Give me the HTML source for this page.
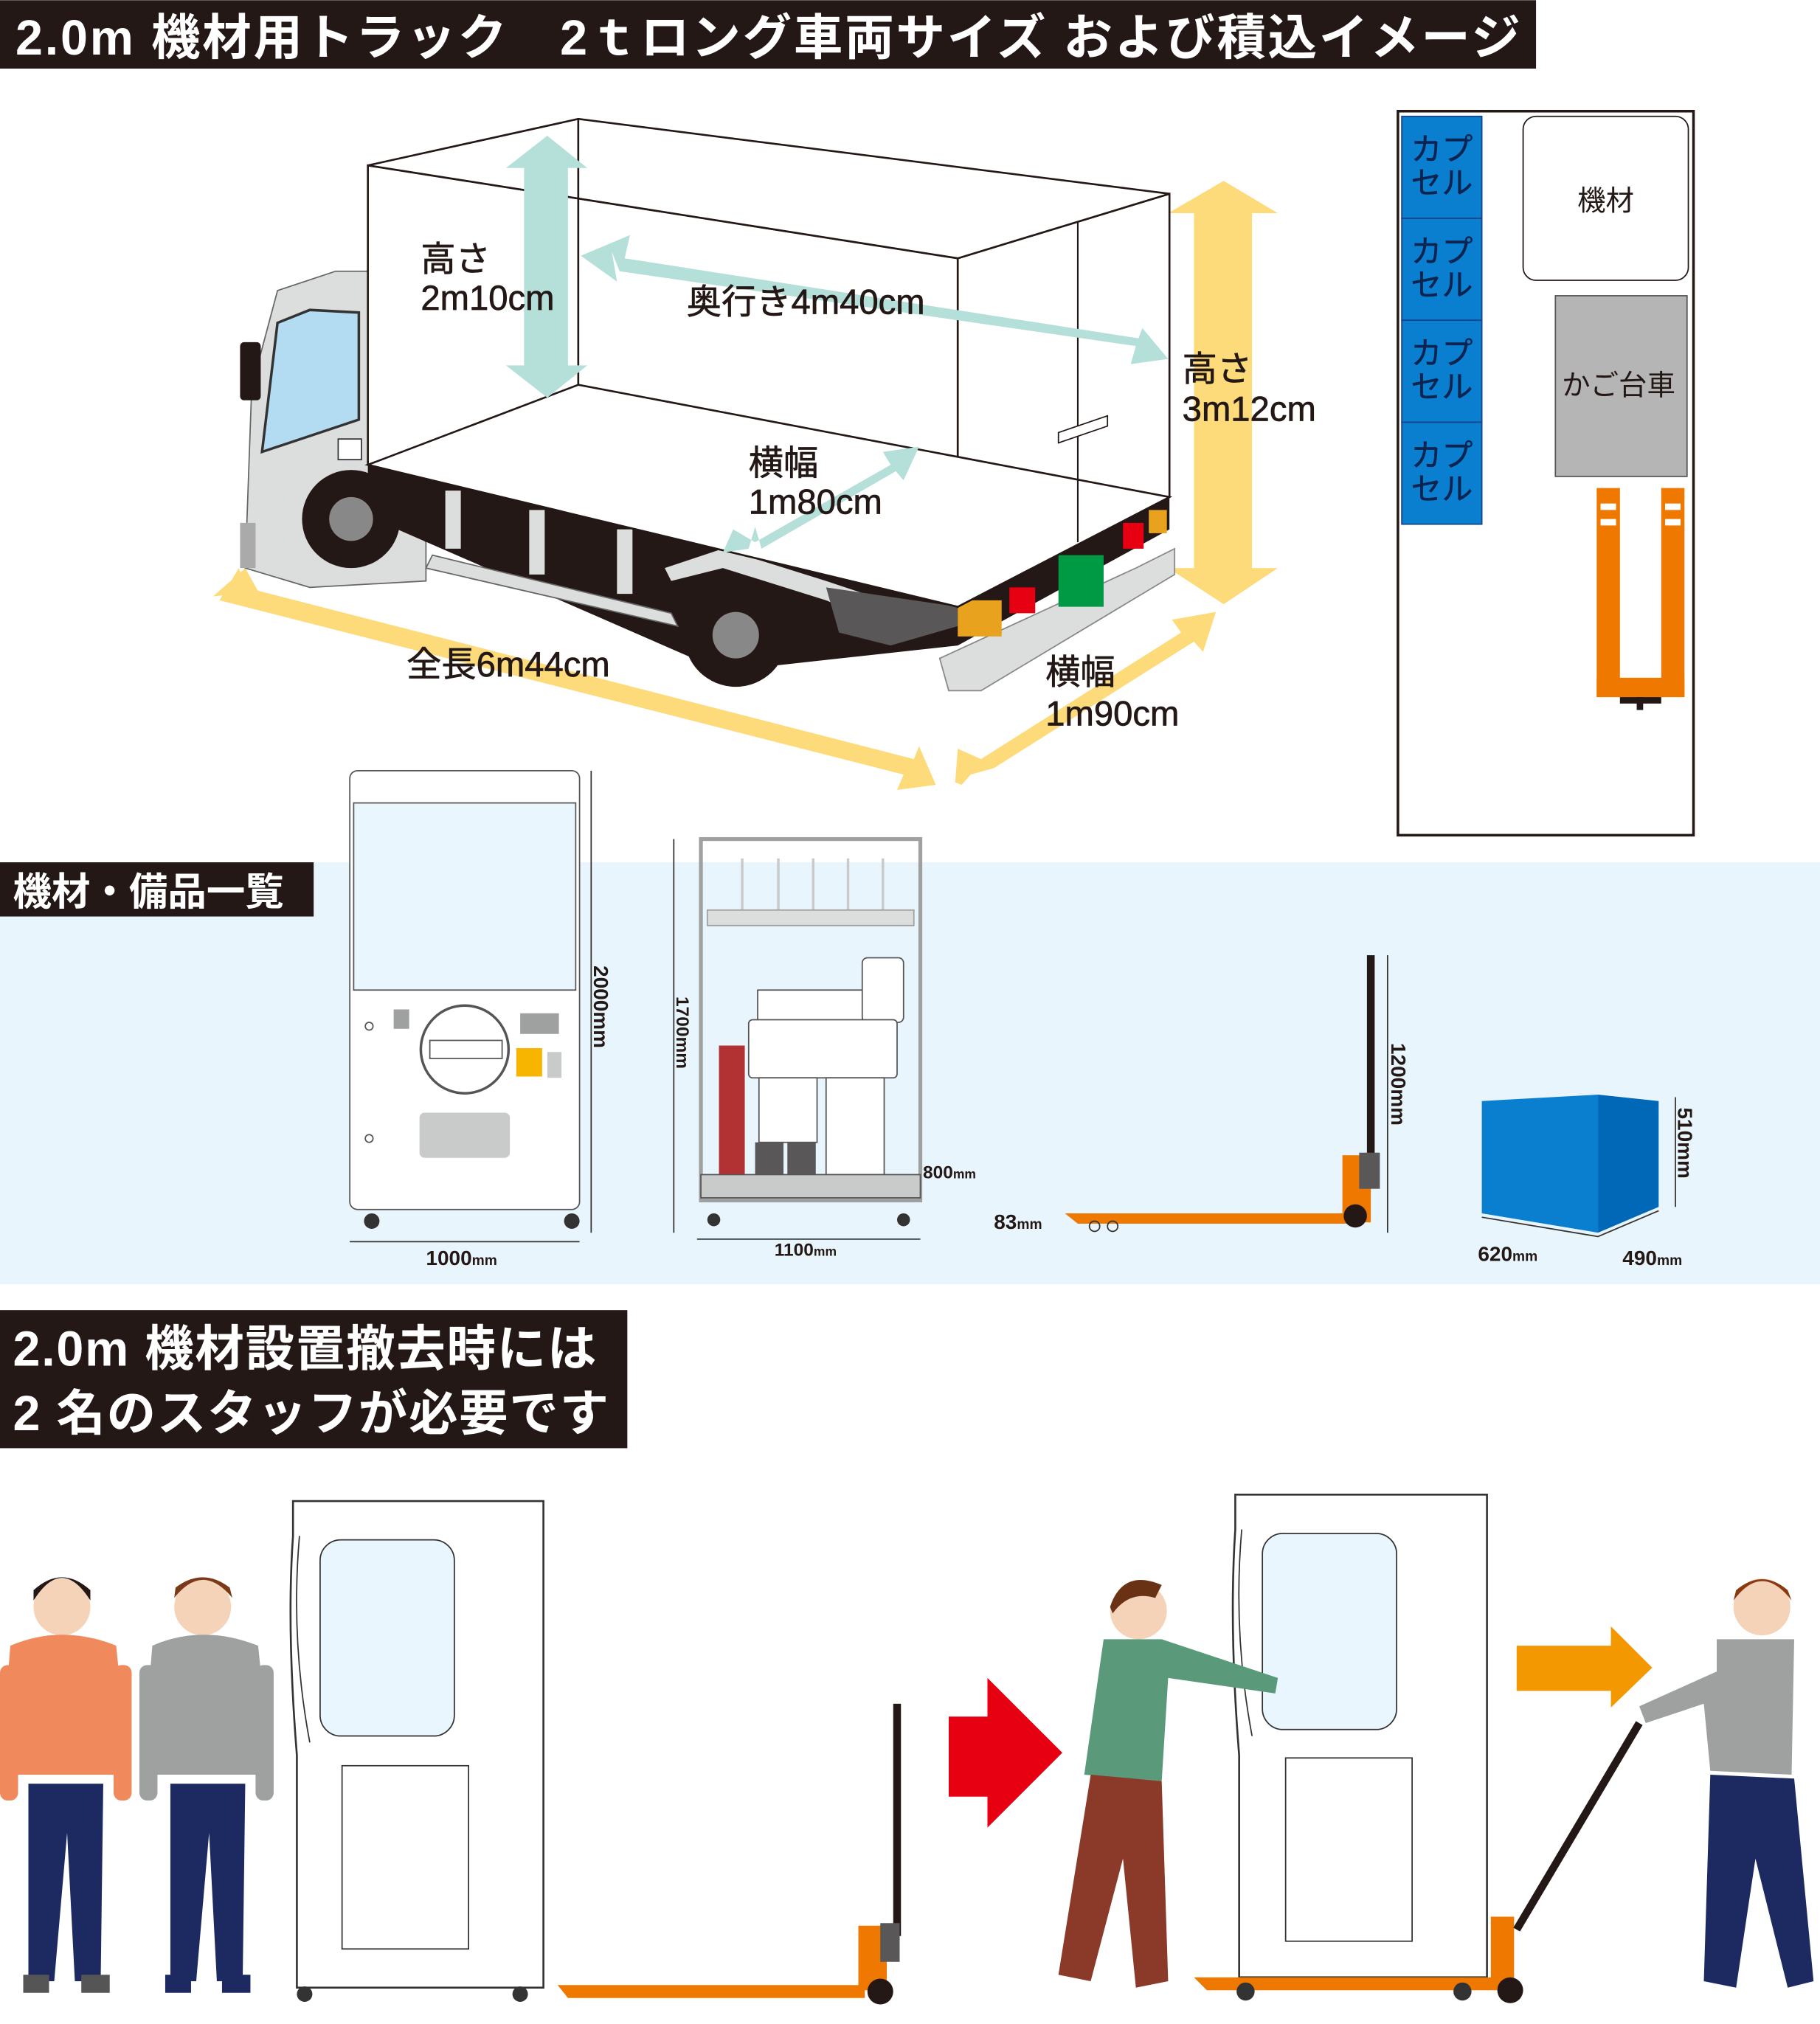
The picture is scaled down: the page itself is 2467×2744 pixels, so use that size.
<!DOCTYPE html>
<html><head><meta charset="utf-8">
<style>
html,body{margin:0;padding:0;background:#fff;}
svg{display:block;}
text{font-family:"Liberation Sans","Noto Sans CJK JP",sans-serif;}
</style></head>
<body>
<svg width="2467" height="2744" viewBox="0 0 1410 1568" xmlns="http://www.w3.org/2000/svg">
<rect width="1410" height="1568" fill="#fff"/>
<!-- title -->
<rect x="0" y="0" width="1190" height="53" fill="#231815"/>
<text x="12" y="42" font-size="38" font-weight="bold" fill="#fff" letter-spacing="1.6">2.0m 機材用トラック　2ｔロング車両サイズ および積込イメージ</text>

<!-- yellow arrows behind -->
<g fill="#fddb7a">
<polygon points="925,165 905,165 948,140 990,165 970,165 970,440 990,440 948,468 905,440 925,440"/>
<polygon points="185,440 170,465 700,600 695,612 725,608 712,578 708,588 190,455"/>
<polygon points="165,462 190,440 200,458"/>
<polygon points="752,600 745,608 740,606 742,580 760,588 915,490 908,480 942,474 932,505 925,497 770,595"/>
</g>

<!-- truck cab -->
<path d="M190,440 L195,300 L215,225 L260,210 L290,210 L290,360 L330,420 L330,450 L240,455 Z" fill="#dcdddd" stroke="#666" stroke-width="1"/>
<path d="M203,350 L215,250 L240,240 L278,242 L278,325 Z" fill="#b3dcf2" stroke="#333" stroke-width="2"/>
<rect x="186" y="265" width="16" height="45" rx="3" fill="#231815"/>
<rect x="262" y="340" width="18" height="16" fill="#fff" stroke="#333"/>
<rect x="186" y="405" width="12" height="35" fill="#aaa"/>
<!-- chassis -->
<polygon points="285,360 742,470 906,385 906,410 742,500 560,520 285,400" fill="#231815"/>
<rect x="345" y="380" width="12" height="45" fill="#dcdddd"/>
<rect x="410" y="395" width="12" height="50" fill="#dcdddd"/>
<rect x="478" y="410" width="12" height="50" fill="#dcdddd"/>
<polygon points="515,440 560,425 640,450 700,470 700,490 640,465 560,440 520,450" fill="#dcdddd"/>
<polygon points="640,455 742,470 742,485 690,500 650,490" fill="#595757"/>
<path d="M728,510 L880,440 L910,425 L910,445 L760,535 L735,535 Z" fill="#dcdddd" stroke="#888"/>
<rect x="742" y="465" width="34" height="28" fill="#e8a21d"/>
<rect x="782" y="455" width="20" height="20" fill="#e60012"/>
<rect x="820" y="430" width="35" height="40" fill="#009944"/>
<rect x="870" y="405" width="16" height="20" fill="#e60012"/>
<rect x="890" y="395" width="14" height="18" fill="#e8a21d"/>
<circle cx="272" cy="402" r="38" fill="#231815"/><circle cx="272" cy="402" r="17" fill="#888"/>
<polygon points="335,430 520,475 525,485 330,440" fill="#dcdddd" stroke="#666"/>
<circle cx="570" cy="492" r="40" fill="#231815"/><circle cx="570" cy="492" r="18" fill="#888"/>
<!-- box -->
<g fill="#fff" stroke="#231815" stroke-width="1.5">
<polygon points="285,128 742,200 742,470 285,360"/>
<polygon points="742,200 906,150 906,385 742,470"/>
<polygon points="285,128 448,92 906,150 742,200"/>
</g>
<polygon points="448,92 448,298 285,360 742,470 906,385 448,298" fill="#fff" stroke="#231815" stroke-width="1.5"/>
<line x1="835" y1="172" x2="835" y2="420" stroke="#231815" stroke-width="1.2"/>
<polygon points="820,335 858,322 858,330 820,343" fill="#fff" stroke="#231815"/>
<!-- teal arrows -->
<g fill="#b5dfd9">
<polygon points="406,130 392,130 424,105 455,130 440,130 440,283 455,283 424,308 392,283 406,283"/>
<polygon points="474,195 480,210 880,268 876,282 905,278 885,254 882,262 484,200 488,182 450,198 478,218"/>
<polygon points="585,408 580,425 560,428 568,410 585,420 690,360 684,350 712,346 700,372 694,365 590,425"/>
</g>
<g font-size="27" fill="#231815" stroke="#231815" stroke-width="0.4">
<text x="326" y="210">高さ</text><text x="326" y="240">2m10cm</text>
<text x="532" y="243">奥行き4m40cm</text>
<text x="580" y="368">横幅</text><text x="580" y="398">1m80cm</text>
<text x="916" y="295">高さ</text><text x="916" y="326">3m12cm</text>
<text x="315" y="524">全長6m44cm</text>
<text x="810" y="530">横幅</text><text x="810" y="562">1m90cm</text>
</g>

<!-- layout panel -->
<rect x="1083" y="86" width="229" height="561" fill="#fff" stroke="#231815" stroke-width="2"/>
<g fill="#0a7fd0" stroke="#16428b">
<rect x="1086" y="90" width="62" height="79"/><rect x="1086" y="169" width="62" height="79"/>
<rect x="1086" y="248" width="62" height="79"/><rect x="1086" y="327" width="62" height="79"/>
</g>
<g font-size="24" fill="#0d2450" stroke="#0d2450" stroke-width="0.3">
<text x="1093" y="124">カプ</text><text x="1093" y="150">セル</text>
<text x="1093" y="203">カプ</text><text x="1093" y="229">セル</text>
<text x="1093" y="282">カプ</text><text x="1093" y="308">セル</text>
<text x="1093" y="361">カプ</text><text x="1093" y="387">セル</text>
</g>
<rect x="1180" y="90" width="128" height="127" rx="10" fill="#fff" stroke="#231815"/>
<text x="1222" y="163" font-size="22" fill="#231815">機材</text>
<rect x="1205" y="229" width="102" height="140" fill="#b5b5b6" stroke="#555"/>
<text x="1210" y="306" font-size="22" fill="#231815">かご台車</text>
<g fill="#ee7800">
<rect x="1237" y="378" width="18" height="162"/><rect x="1287" y="378" width="18" height="162"/>
<rect x="1237" y="525" width="68" height="15"/>
</g>
<g fill="#fff"><rect x="1240" y="390" width="12" height="5"/><rect x="1240" y="402" width="12" height="5"/><rect x="1290" y="390" width="12" height="5"/><rect x="1290" y="402" width="12" height="5"/></g>
<rect x="1255" y="540" width="32" height="5" fill="#231815"/><rect x="1268" y="540" width="5" height="10" fill="#231815"/>

<!-- equipment band -->
<rect x="0" y="668" width="1410" height="327" fill="#e9f5fc"/>
<rect x="0" y="668" width="243" height="42" fill="#231815"/>
<text x="10" y="701" font-size="30" font-weight="bold" fill="#fff">機材・備品一覧</text>
<!-- machine -->
<rect x="271" y="597" width="178" height="340" rx="6" fill="#fff" stroke="#555"/>
<rect x="274" y="622" width="172" height="145" fill="#eaf6fd" stroke="#555"/>
<circle cx="360" cy="813" r="34" fill="#fff" stroke="#555" stroke-width="2"/>
<rect x="333" y="806" width="56" height="14" fill="#fff" stroke="#555"/>
<rect x="305" y="782" width="12" height="15" fill="#9fa0a0"/>
<rect x="403" y="785" width="30" height="16" fill="#9fa0a0"/>
<rect x="400" y="812" width="20" height="22" fill="#f8b500"/>
<rect x="424" y="815" width="11" height="20" fill="#c9caca"/>
<rect x="325" y="862" width="70" height="35" rx="4" fill="#c9caca"/>
<circle cx="286" cy="795" r="3" fill="none" stroke="#555"/><circle cx="286" cy="882" r="3" fill="none" stroke="#555"/>
<circle cx="288" cy="946" r="6" fill="#333"/><circle cx="443" cy="946" r="6" fill="#333"/>
<line x1="458" y1="597" x2="458" y2="955" stroke="#333"/>
<text x="460" y="748" font-size="16" font-weight="bold" fill="#231815" transform="rotate(90 460 748)">2000mm</text>
<line x1="271" y1="962" x2="449" y2="962" stroke="#333"/>
<text x="330" y="980" font-size="16" font-weight="bold" fill="#231815">1000<tspan font-size="11">mm</tspan></text>
<!-- cage -->
<rect x="543" y="650" width="170" height="280" fill="none" stroke="#9fa0a0" stroke-width="3"/>
<g stroke="#c9caca" stroke-width="2"><line x1="575" y1="665" x2="575" y2="705"/><line x1="603" y1="665" x2="603" y2="705"/><line x1="630" y1="665" x2="630" y2="705"/><line x1="657" y1="665" x2="657" y2="705"/><line x1="684" y1="665" x2="684" y2="705"/></g>
<rect x="548" y="705" width="160" height="12" fill="#dcdddd" stroke="#9fa0a0"/>
<rect x="587" y="767" width="105" height="25" fill="#fff" stroke="#555"/>
<rect x="668" y="742" width="32" height="50" rx="4" fill="#fff" stroke="#555"/>
<rect x="580" y="790" width="115" height="45" rx="3" fill="#fff" stroke="#555"/>
<rect x="588" y="835" width="45" height="50" fill="#fff" stroke="#555"/>
<rect x="640" y="835" width="45" height="75" fill="#fff" stroke="#555"/>
<rect x="585" y="885" width="22" height="25" fill="#595757"/><rect x="610" y="885" width="22" height="25" fill="#595757"/>
<rect x="557" y="810" width="20" height="100" fill="#a40000" opacity="0.8"/>
<rect x="543" y="910" width="170" height="18" fill="#c9caca" stroke="#555"/>
<circle cx="553" cy="945" r="5" fill="#333"/><circle cx="700" cy="945" r="5" fill="#333"/>
<line x1="522" y1="650" x2="522" y2="955" stroke="#333"/>
<text x="524" y="772" font-size="14" font-weight="bold" fill="#231815" transform="rotate(90 524 772)">1700mm</text>
<line x1="540" y1="960" x2="713" y2="960" stroke="#333"/>
<text x="600" y="973" font-size="14" font-weight="bold" fill="#231815">1100<tspan font-size="10">mm</tspan></text>
<text x="715" y="913" font-size="14" font-weight="bold" fill="#231815">800<tspan font-size="10">mm</tspan></text>
<!-- pallet jack -->
<rect x="1059" y="740" width="6" height="160" fill="#231815"/>
<rect x="1040" y="895" width="22" height="52" fill="#ee7800"/>
<rect x="1053" y="893" width="16" height="28" fill="#595757"/>
<polygon points="825,940 1045,940 1045,948 835,948" fill="#ee7800"/>
<circle cx="1050" cy="942" r="9" fill="#231815"/>
<circle cx="848" cy="950" r="4" fill="none" stroke="#333"/><circle cx="862" cy="950" r="4" fill="none" stroke="#333"/>
<line x1="1075" y1="740" x2="1075" y2="955" stroke="#333"/>
<text x="1078" y="808" font-size="16" font-weight="bold" fill="#231815" transform="rotate(90 1078 808)">1200mm</text>
<text x="770" y="952" font-size="16" font-weight="bold" fill="#231815">83<tspan font-size="11">mm</tspan></text>
<!-- blue box -->
<polygon points="1148,853 1238,848 1238,955 1148,940" fill="#0a7fd0"/>
<polygon points="1238,848 1285,853 1285,935 1238,955" fill="#0068b7"/>
<polyline points="1148,943 1238,958 1285,938" fill="none" stroke="#333"/>
<line x1="1298" y1="850" x2="1298" y2="935" stroke="#333"/>
<text x="1300" y="858" font-size="16" font-weight="bold" fill="#231815" transform="rotate(90 1300 858)">510mm</text>
<text x="1145" y="977" font-size="16" font-weight="bold" fill="#231815">620<tspan font-size="11">mm</tspan></text>
<text x="1257" y="980" font-size="16" font-weight="bold" fill="#231815">490<tspan font-size="11">mm</tspan></text>

<!-- staff section -->
<rect x="0" y="1015" width="486" height="107" fill="#231815"/>
<text x="10" y="1058" font-size="38" font-weight="bold" fill="#fff" letter-spacing="1">2.0m 機材設置撤去時には</text>
<text x="10" y="1108" font-size="38" font-weight="bold" fill="#fff" letter-spacing="1">2 名のスタッフが必要です</text>

<!-- people left -->
<g>
<circle cx="48" cy="1245" r="22" fill="#f5d3b8"/><path d="M26,1240 Q48,1205 70,1240 L70,1232 Q48,1212 26,1232Z" fill="#231815"/>
<path d="M8,1275 Q48,1258 90,1275 L100,1375 L0,1375 Z" fill="#f08a5d"/>
<path d="M22,1382 L80,1382 L78,1535 L58,1535 L52,1420 L42,1535 L22,1535Z" fill="#1d2a62"/>
<circle cx="157" cy="1245" r="22" fill="#f5d3b8"/><path d="M135,1238 Q157,1210 180,1238 L178,1230 Q157,1214 136,1230Z" fill="#7a3a1a"/>
<path d="M118,1275 Q157,1258 200,1275 L210,1375 L110,1375 Z" fill="#9fa0a0"/>
<path d="M132,1382 L190,1382 L188,1535 L168,1535 L162,1420 L152,1535 L132,1535Z" fill="#1d2a62"/>
<rect x="18" y="1530" width="20" height="14" fill="#555"/><rect x="63" y="1530" width="22" height="14" fill="#555"/>
<rect x="128" y="1530" width="20" height="14" fill="#1d2a62"/><rect x="172" y="1530" width="22" height="14" fill="#1d2a62"/>
<rect x="0" y="1290" width="14" height="105" rx="6" fill="#f08a5d"/><rect x="88" y="1290" width="14" height="105" rx="6" fill="#f08a5d"/>
<rect x="108" y="1290" width="14" height="105" rx="6" fill="#9fa0a0"/><rect x="198" y="1290" width="14" height="105" rx="6" fill="#9fa0a0"/>
</g>
<!-- machine side left -->
<path d="M227,1163 L421,1163 L421,1540 L230,1540 L230,1360 Q222,1260 227,1190Z" fill="#fff" stroke="#333" stroke-width="1.5"/>
<path d="M232,1190 Q225,1270 240,1350" fill="none" stroke="#333"/>
<rect x="248" y="1193" width="104" height="152" rx="16" fill="#eaf6fd" stroke="#333"/>
<rect x="265" y="1368" width="98" height="142" fill="#fff" stroke="#333"/>
<circle cx="236" cy="1545" r="6" fill="#333"/><circle cx="403" cy="1545" r="6" fill="#333"/>
<!-- pallet jack left -->
<rect x="692" y="1320" width="6" height="180" fill="#231815"/>
<rect x="665" y="1492" width="22" height="50" fill="#ee7800"/>
<rect x="682" y="1490" width="15" height="30" fill="#595757"/>
<polygon points="432,1538 670,1538 670,1548 440,1548" fill="#ee7800"/>
<circle cx="682" cy="1543" r="10" fill="#231815"/>
<!-- arrows -->
<polygon points="735,1330 765,1330 765,1300 823,1358 765,1416 765,1392 735,1392" fill="#e60012"/>
<polygon points="1175,1275 1248,1275 1248,1260 1280,1292 1248,1323 1248,1310 1175,1310" fill="#f39800"/>
<!-- right scene -->
<path d="M957,1158 L1152,1158 L1152,1532 L960,1532 L960,1360 Q952,1260 957,1185Z" fill="#fff" stroke="#333" stroke-width="1.5"/>
<path d="M962,1185 Q955,1265 970,1345" fill="none" stroke="#333"/>
<rect x="978" y="1188" width="104" height="152" rx="16" fill="#eaf6fd" stroke="#333"/>
<rect x="996" y="1362" width="98" height="142" fill="#fff" stroke="#333"/>
<polygon points="925,1532 1160,1532 1160,1542 935,1542" fill="#ee7800"/>
<rect x="1155" y="1485" width="18" height="55" fill="#ee7800"/>
<circle cx="965" cy="1543" r="7" fill="#333"/><circle cx="1133" cy="1543" r="7" fill="#333"/>
<circle cx="1170" cy="1542" r="10" fill="#231815"/>
<line x1="1175" y1="1495" x2="1270" y2="1335" stroke="#231815" stroke-width="6"/>
<!-- pusher -->
<circle cx="882" cy="1248" r="22" fill="#f5d3b8"/><path d="M860,1245 Q870,1215 900,1228 L895,1238 Q875,1232 862,1250Z" fill="#6a3215"/>
<path d="M855,1270 L900,1270 L990,1300 L988,1312 L905,1300 L900,1380 L840,1375 Z" fill="#5a9a7a"/>
<path d="M845,1375 L900,1380 L905,1535 L880,1540 L870,1440 L845,1535 L820,1530Z" fill="#8b3a2a"/>
<!-- puller -->
<circle cx="1365" cy="1245" r="22" fill="#f5d3b8"/><path d="M1343,1240 Q1365,1210 1388,1240 L1385,1232 Q1365,1215 1345,1232Z" fill="#8a3a12"/>
<path d="M1330,1270 L1390,1270 L1388,1375 L1325,1372 L1320,1320 L1275,1335 L1270,1322 L1330,1295Z" fill="#9fa0a0"/>
<path d="M1325,1375 L1390,1378 L1405,1535 L1385,1540 L1360,1440 L1345,1540 L1320,1535Z" fill="#1d2a62"/>
</svg>
</body></html>
